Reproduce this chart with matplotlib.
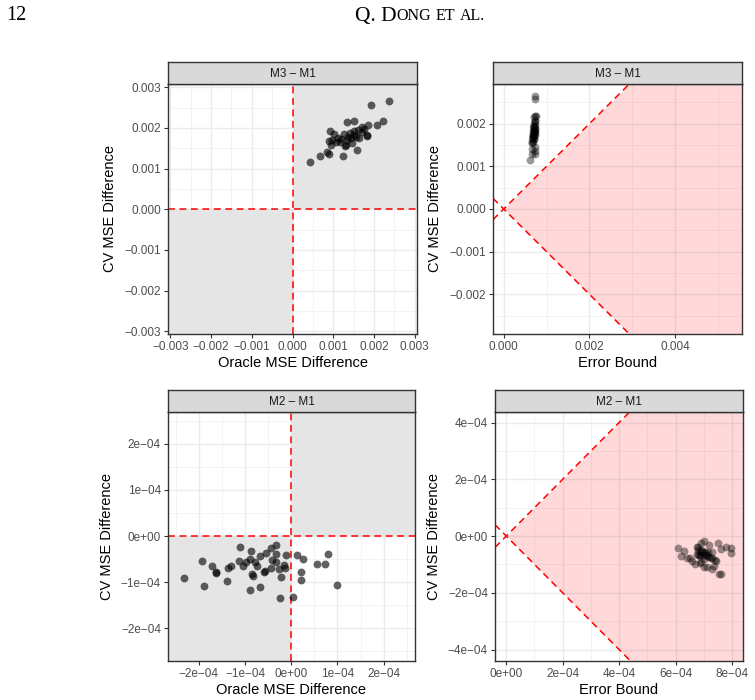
import matplotlib
matplotlib.use("Agg")
import matplotlib.pyplot as plt
from matplotlib.patches import Rectangle
import numpy as np

plt.rcParams['font.family'] = ['Liberation Sans', 'DejaVu Sans']

# ---- data ----
# M3 - M1, units of 1e-3
oracle_m3 = [2.37, 1.93, 2.23, 2.07, 1.85, 1.70, 1.50, 1.33, 0.93, 1.02,
             1.26, 1.41, 1.52, 1.70, 1.82, 1.11, 0.89, 0.95, 1.16, 1.31,
             1.43, 1.55, 1.63, 1.47, 0.84, 0.89, 0.67, 0.43, 1.25, 1.59,
             1.34, 1.51, 1.37, 1.07, 1.30, 1.75, 0.98, 1.60, 1.83, 1.20]
cv_m3 = [2.66, 2.57, 2.17, 2.06, 2.07, 2.02, 2.18, 2.15, 1.93, 1.86,
         1.84, 1.88, 1.92, 1.90, 1.80, 1.74, 1.68, 1.57, 1.65, 1.57,
         1.74, 1.78, 1.75, 1.63, 1.41, 1.37, 1.30, 1.15, 1.30, 1.45,
         1.70, 1.82, 1.78, 1.65, 1.55, 1.97, 1.70, 1.95, 1.83, 1.72]
bound_m3 = [0.74, 0.74, 0.75, 0.73, 0.72, 0.71, 0.73, 0.70, 0.69, 0.70,
            0.71, 0.72, 0.70, 0.73, 0.71, 0.68, 0.69, 0.67, 0.70, 0.68,
            0.72, 0.74, 0.69, 0.71, 0.66, 0.73, 0.65, 0.61, 0.72, 0.74,
            0.70, 0.68, 0.71, 0.67, 0.66, 0.72, 0.68, 0.70, 0.73, 0.69]

# M2 - M1, units of 1e-4
oracle_m2 = [-2.32, -1.94, -1.88, -1.72, -1.63, -1.63, -1.39, -1.37, -1.31, -1.10,
             -1.13, -1.04, -0.98, -0.87, -0.89, -0.84, -0.83, -0.89, -0.78, -0.75,
             -0.67, -0.67, -0.60, -0.56, -0.54, -0.43, -0.42, -0.44, -0.32, -0.32,
             -0.32, -0.27, -0.23, -0.25, -0.15, -0.14, -0.12, 0.03, 0.13, 0.25,
             0.20, 0.21, 0.56, 0.73, 0.79, 1.00]
cv_m2 = [-0.92, -0.54, -1.09, -0.66, -0.78, -0.80, -0.97, -0.69, -0.65, -0.23,
         -0.55, -0.65, -0.56, -0.33, -0.49, -0.83, -0.87, -1.17, -0.57, -0.66,
         -0.44, -1.10, -0.77, -0.76, -0.37, -0.26, -0.51, -0.70, -0.19, -0.39,
         -0.57, -0.72, -0.88, -1.35, -0.62, -0.69, -0.42, -1.32, -0.41, -0.50,
         -0.78, -0.96, -0.60, -0.60, -0.38, -1.07]
bound_m2 = [6.90, 6.30, 7.10, 6.80, 6.50, 7.00, 6.70, 6.20, 7.00, 6.90,
            7.30, 6.85, 7.15, 7.20, 6.80, 7.40, 6.60, 7.30, 6.90, 7.10,
            7.60, 7.00, 6.40, 7.25, 6.75, 7.50, 6.95, 6.85, 7.00, 7.80,
            7.05, 7.20, 7.45, 7.55, 6.75, 7.10, 6.10, 7.60, 7.95, 6.90,
            7.30, 6.85, 7.95, 7.05, 6.80, 7.35]

oracle_m3 = np.array(oracle_m3) * 1e-3
cv_m3 = np.array(cv_m3) * 1e-3
bound_m3 = np.array(bound_m3) * 1e-3
oracle_m2 = np.array(oracle_m2) * 1e-4
cv_m2 = np.array(cv_m2) * 1e-4
bound_m2 = np.array(bound_m2) * 1e-4

GRID = '#ebebeb'
DARK = '#333333'

fig = plt.figure(figsize=(7.55, 7.0), dpi=100)
W, H = 755.0, 700.0


def add_panel(l, t, r, b):
    return fig.add_axes([l / W, (H - b) / H, (r - l) / W, (b - t) / H])


def fmt(v, style):
    if style == 'dec':
        s = f"{v:.3f}"
    else:
        s = f"{v:.0e}"
    return s.replace('-', '\u2212')


def style_axes(ax, xlim, ylim, xmaj, xmin_, ymaj, ymin_, style, xlabel):
    ax.set_xlim(*xlim)
    ax.set_ylim(*ylim)
    ax.set_xticks(xmaj)
    ax.set_xticklabels([fmt(v, style) for v in xmaj])
    ax.set_yticks(ymaj)
    ax.set_yticklabels([fmt(v, style) for v in ymaj])
    ax.set_xticks(xmin_, minor=True)
    ax.set_yticks(ymin_, minor=True)
    ax.set_axisbelow(True)
    ax.grid(which='major', color=GRID, lw=1.0)
    ax.grid(which='minor', color='#f1f1f1', lw=0.6)
    ax.tick_params(which='major', direction='out', length=3, width=0.8,
                   color=DARK, labelcolor='#4d4d4d', labelsize=8.5, pad=2)
    ax.tick_params(which='minor', length=0)
    for sp in ax.spines.values():
        sp.set_color(DARK)
        sp.set_linewidth(1.0)
    ax.set_xlabel(xlabel, fontsize=10.5, labelpad=2)
    ax.set_ylabel('CV MSE Difference', fontsize=10.5, labelpad=5)


def add_strip(ax, label):
    pos = ax.get_position()
    sax = fig.add_axes([pos.x0, pos.y1, pos.width, 22 / H])
    sax.set_facecolor('#d9d9d9')
    sax.set_xticks([])
    sax.set_yticks([])
    for sp in sax.spines.values():
        sp.set_color(DARK)
        sp.set_linewidth(1.0)
    sax.text(0.5, 0.45, label, ha='center', va='center', fontsize=8.5,
             color='#1a1a1a', transform=sax.transAxes)


def quadrant_panel(ax, x, y):
    x0, x1 = ax.get_xlim()
    y0, y1 = ax.get_ylim()
    ax.add_patch(Rectangle((0, 0), x1, y1, color='#e5e5e5', lw=0, zorder=1))
    ax.add_patch(Rectangle((x0, y0), -x0, -y0, color='#e5e5e5', lw=0, zorder=1))
    ax.axhline(0, color='red', lw=1.1, ls=(0, (4.5, 3)), zorder=2)
    ax.axvline(0, color='red', lw=1.1, ls=(0, (4.5, 3)), zorder=2)
    ax.scatter(x, y, s=32, color='black', alpha=0.62, lw=0, zorder=3)


def bound_panel(ax, x, y):
    x0, x1 = ax.get_xlim()
    xx = np.array([0, x1])
    ax.fill_between(xx, -xx, xx, color='red', alpha=0.15, lw=0, zorder=1)
    ln = np.array([x0, x1])
    ax.plot(ln, ln, color='red', lw=1.1, ls=(0, (4.5, 3)), zorder=2)
    ax.plot(ln, -ln, color='red', lw=1.1, ls=(0, (4.5, 3)), zorder=2)
    ax.scatter(x, y, s=32, color='black', alpha=0.4, lw=0, zorder=3)


# top left: M3 - M1 oracle vs cv
ax1 = add_panel(168, 84, 417, 334)
style_axes(ax1, (-0.00306, 0.00306), (-0.00307, 0.00308),
           np.arange(-3, 4) * 1e-3, np.arange(-2.5, 3.0, 1.0) * 1e-3,
           np.arange(-3, 4) * 1e-3, np.arange(-2.5, 3.0, 1.0) * 1e-3,
           'dec', 'Oracle MSE Difference')
quadrant_panel(ax1, oracle_m3, cv_m3)
add_strip(ax1, 'M3 \u2013 M1')

# top right: M3 - M1 error bound vs cv
ax2 = add_panel(493, 84, 742, 334)
style_axes(ax2, (-0.00025, 0.00556), (-0.00293, 0.00293),
           np.array([0, 2, 4]) * 1e-3, np.array([1, 3, 5]) * 1e-3,
           np.arange(-2, 3) * 1e-3, np.arange(-2.5, 3.0, 1.0) * 1e-3,
           'dec', 'Error Bound')
bound_panel(ax2, bound_m3, cv_m3)
add_strip(ax2, 'M3 \u2013 M1')

# bottom left: M2 - M1 oracle vs cv
ax3 = add_panel(168, 412, 415, 661)
style_axes(ax3, (-2.67e-4, 2.68e-4), (-2.71e-4, 2.69e-4),
           np.arange(-2, 3) * 1e-4, np.arange(-2.5, 3.0, 1.0) * 1e-4,
           np.arange(-2, 3) * 1e-4, np.arange(-2.5, 3.0, 1.0) * 1e-4,
           'sci', 'Oracle MSE Difference')
quadrant_panel(ax3, oracle_m2, cv_m2)
add_strip(ax3, 'M2 \u2013 M1')

# bottom right: M2 - M1 error bound vs cv
ax4 = add_panel(495, 412, 743, 661)
style_axes(ax4, (-0.40e-4, 8.39e-4), (-4.40e-4, 4.37e-4),
           np.arange(0, 9, 2) * 1e-4, np.arange(1, 9, 2) * 1e-4,
           np.arange(-4, 5, 2) * 1e-4, np.arange(-3, 4, 2) * 1e-4,
           'sci', 'Error Bound')
bound_panel(ax4, bound_m2, cv_m2)
add_strip(ax4, 'M2 \u2013 M1')

# page header (small caps faked with two sizes)
serif = ['Liberation Serif', 'DejaVu Serif']
fig.text(6 / W, 1 - 20.5 / H, '12', family=serif, fontsize=14.5,
         ha='left', va='baseline')
pieces = [('Q. D', 15.5), ('ONG', 11.5), (' ', 11.5), ('ET', 11.5),
          (' ', 11.5), ('AL.', 11.5)]
renderer = fig.canvas.get_renderer()
xpos = 355.0
for txt, size in pieces:
    if txt == ' ':
        xpos += size * 0.3 * 100 / 72
        continue
    t = fig.text(xpos / W, 1 - 20.5 / H, txt, family=serif, fontsize=size,
                 ha='left', va='baseline')
    xpos += t.get_window_extent(renderer=renderer).width

fig.savefig('out.png', dpi=100)
